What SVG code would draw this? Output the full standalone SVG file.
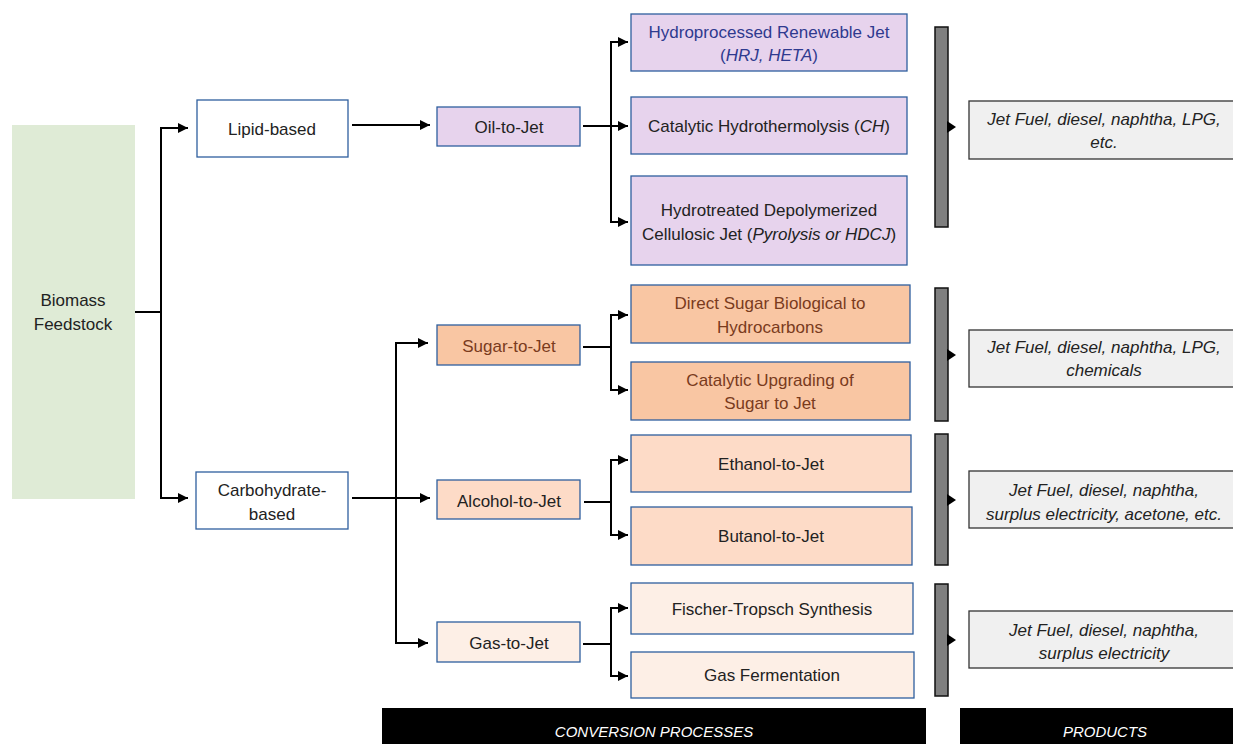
<svg xmlns="http://www.w3.org/2000/svg" width="1233" height="744" viewBox="0 0 1233 744">
<defs>
<marker id="ah" viewBox="0 0 10 10" refX="10" refY="5" markerWidth="10" markerHeight="10" markerUnits="userSpaceOnUse" orient="auto">
<path d="M0,0 L10,5 L0,10 z" fill="#000"/>
</marker>
</defs>
<style>
text{font-family:"Liberation Sans",Arial,sans-serif;font-size:17px;text-anchor:middle;fill:#222}
.it{font-style:italic}
.box{stroke:#2e5f9e;stroke-width:1.3}
.white{fill:#fff}
.oil{fill:#e7d3ed}
.sugar{fill:#f9c6a3}
.alc{fill:#fddbc7}
.gas{fill:#fdefe6}
.prod{fill:#f0f0f0;stroke:#333;stroke-width:1.3}
.bar{fill:#7f7f7f;stroke:#111;stroke-width:1.5}
.blue{fill:#2f3a8f}
.brown{fill:#7a3b1d}
.conn{fill:none;stroke:#000;stroke-width:2}
.hdr{fill:#000}
.hdrt{fill:#fff;font-style:italic;font-size:15px}
</style>
<rect width="1233" height="744" fill="#fff"/>

<g id="biomass">
<rect x="12" y="125" width="123" height="374" fill="#dfebd6"/>
<text x="73" y="306">Biomass</text>
<text x="73" y="330">Feedstock</text>
</g>

<g id="lipid">
<rect class="box white" x="197" y="100" width="151" height="57"/>
<text x="272" y="135">Lipid-based</text>
</g>
<g id="carbohydrate">
<rect class="box white" x="196" y="472" width="152" height="57"/>
<text x="272" y="496">Carbohydrate-</text>
<text x="272" y="520">based</text>
</g>

<g id="oil">
<rect class="box oil" x="437" y="107" width="143" height="39"/>
<text x="509" y="133">Oil-to-Jet</text>
</g>
<g id="sugar">
<rect class="box sugar" x="437" y="325" width="143" height="40"/>
<text class="brown" x="509" y="352">Sugar-to-Jet</text>
</g>
<g id="alcohol">
<rect class="box alc" x="437" y="480" width="143" height="39"/>
<text x="509" y="507">Alcohol-to-Jet</text>
</g>
<g id="gas">
<rect class="box gas" x="437" y="622" width="143" height="40"/>
<text x="509" y="649">Gas-to-Jet</text>
</g>

<g id="hrj">
<rect class="box oil" x="631" y="14" width="276" height="57"/>
<text class="blue" x="769" y="38">Hydroprocessed Renewable Jet</text>
<text class="blue" x="769" y="61">(<tspan class="it blue">HRJ, HETA</tspan>)</text>
</g>
<g id="ch">
<rect class="box oil" x="631" y="97" width="276" height="57"/>
<text x="769" y="132">Catalytic Hydrothermolysis (<tspan class="it">CH</tspan>)</text>
</g>
<g id="hdcj">
<rect class="box oil" x="631" y="176" width="276" height="89"/>
<text x="769" y="216">Hydrotreated Depolymerized</text>
<text x="769" y="240">Cellulosic Jet (<tspan class="it">Pyrolysis or HDCJ</tspan>)</text>
</g>

<g id="directsugar">
<rect class="box sugar" x="631" y="285" width="279" height="58"/>
<text class="brown" x="770" y="309">Direct Sugar Biological to</text>
<text class="brown" x="770" y="333">Hydrocarbons</text>
</g>
<g id="catupgrade">
<rect class="box sugar" x="631" y="362" width="279" height="58"/>
<text class="brown" x="770" y="386">Catalytic Upgrading of</text>
<text class="brown" x="770" y="409">Sugar to Jet</text>
</g>
<g id="ethanol">
<rect class="box alc" x="631" y="435" width="280" height="57"/>
<text x="771" y="470">Ethanol-to-Jet</text>
</g>
<g id="butanol">
<rect class="box alc" x="631" y="507" width="281" height="58"/>
<text x="771" y="542">Butanol-to-Jet</text>
</g>
<g id="fischer">
<rect class="box gas" x="631" y="583" width="282" height="51"/>
<text x="772" y="615">Fischer-Tropsch Synthesis</text>
</g>
<g id="gasferm">
<rect class="box gas" x="631" y="652" width="283" height="46"/>
<text x="772" y="681">Gas Fermentation</text>
</g>

<g id="bar1"><rect class="bar" x="935" y="27" width="13" height="200"/><path d="M947,121 L956,127 L947,133 z" fill="#000"/></g>
<g id="bar2"><rect class="bar" x="935" y="288" width="13" height="133"/><path d="M947,349 L956,355 L947,361 z" fill="#000"/></g>
<g id="bar3"><rect class="bar" x="935" y="434" width="13" height="131"/><path d="M947,494 L956,500 L947,506 z" fill="#000"/></g>
<g id="bar4"><rect class="bar" x="935" y="584" width="13" height="112"/><path d="M947,634 L956,640 L947,646 z" fill="#000"/></g>

<g id="prod1">
<rect class="prod" x="969" y="101" width="266" height="58"/>
<text class="it" x="1104" y="125">Jet Fuel, diesel, naphtha, LPG,</text>
<text class="it" x="1104" y="148">etc.</text>
</g>
<g id="prod2">
<rect class="prod" x="969" y="330" width="266" height="57"/>
<text class="it" x="1104" y="353">Jet Fuel, diesel, naphtha, LPG,</text>
<text class="it" x="1104" y="376">chemicals</text>
</g>
<g id="prod3">
<rect class="prod" x="969" y="471" width="266" height="57"/>
<text class="it" x="1104" y="496">Jet Fuel, diesel, naphtha,</text>
<text class="it" x="1104" y="520">surplus electricity, acetone, etc.</text>
</g>
<g id="prod4">
<rect class="prod" x="969" y="611" width="266" height="57"/>
<text class="it" x="1104" y="636">Jet Fuel, diesel, naphtha,</text>
<text class="it" x="1104" y="659">surplus electricity</text>
</g>

<g id="hdr-conv">
<rect class="hdr" x="382" y="708" width="544" height="36"/>
<text class="hdrt" x="654" y="737">CONVERSION PROCESSES</text>
</g>
<g id="hdr-prod">
<rect class="hdr" x="960" y="708" width="273" height="36"/>
<text class="hdrt" x="1105" y="737">PRODUCTS</text>
</g>

<g id="connectors">
<path class="conn" d="M135,312 H161"/>
<path class="conn" d="M161,312 V128 H188" marker-end="url(#ah)"/>
<path class="conn" d="M161,312 V498 H188" marker-end="url(#ah)"/>
<path class="conn" d="M352,125 H430" marker-end="url(#ah)"/>
<path class="conn" d="M583,126 H628" marker-end="url(#ah)"/>
<path class="conn" d="M611,126 V42 H628" marker-end="url(#ah)"/>
<path class="conn" d="M611,126 V222 H628" marker-end="url(#ah)"/>
<path class="conn" d="M352,498 H430" marker-end="url(#ah)"/>
<path class="conn" d="M396,498 V343 H428" marker-end="url(#ah)"/>
<path class="conn" d="M396,498 V643 H428" marker-end="url(#ah)"/>
<path class="conn" d="M583,347 H611"/>
<path class="conn" d="M611,347 V315 H628" marker-end="url(#ah)"/>
<path class="conn" d="M611,347 V390 H628" marker-end="url(#ah)"/>
<path class="conn" d="M584,502 H611"/>
<path class="conn" d="M611,502 V460 H628" marker-end="url(#ah)"/>
<path class="conn" d="M611,502 V535 H628" marker-end="url(#ah)"/>
<path class="conn" d="M583,644 H611"/>
<path class="conn" d="M611,644 V608 H628" marker-end="url(#ah)"/>
<path class="conn" d="M611,644 V676 H628" marker-end="url(#ah)"/>
</g>
</svg>
